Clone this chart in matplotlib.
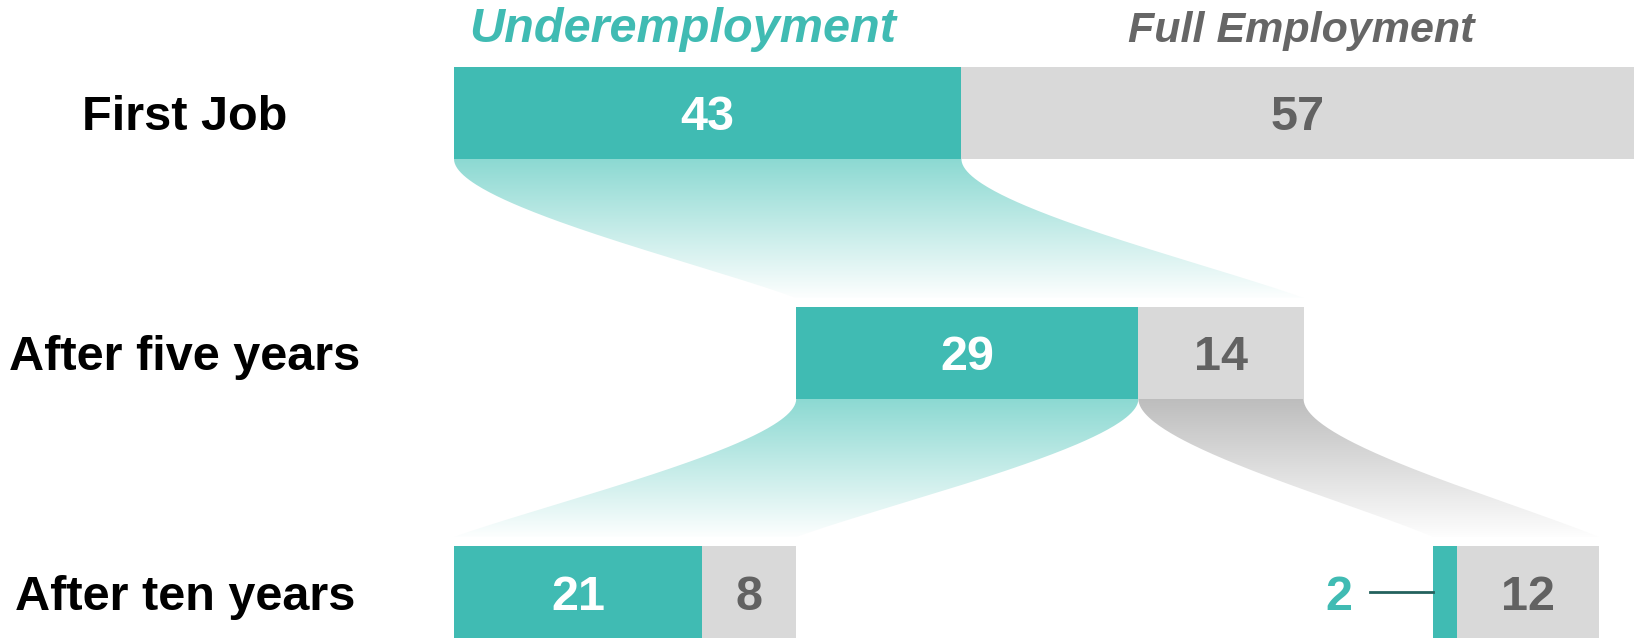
import numpy as np
import matplotlib
matplotlib.use('Agg')
import matplotlib.pyplot as plt
from matplotlib.path import Path
from matplotlib.patches import PathPatch, Rectangle
from matplotlib.colors import to_rgb

# share of graduates by employment status (%)
stages = ['First Job', 'After five years', 'After ten years']
headers = ['Underemployment', 'Full Employment']
first_job = [43, 57]
five_years = [29, 14]            # of the 43 underemployed at first job
ten_years_from_under = [21, 8]   # of the 29 still underemployed after five years
ten_years_from_full = [2, 12]    # of the 14 fully employed after five years

TEAL = '#40bbb3'
GRAY = '#d9d9d9'
TEAL_FLOW = '#8cd9d2'
GRAY_FLOW = '#bdbdbd'
DARK = '#626262'
FONT = 'Liberation Sans'

BAR_H = 92
row_top = [67, 307, 546]
PX_PER_UNIT = 11.8

fig = plt.figure(figsize=(16.34, 6.38), dpi=100)
ax = fig.add_axes([0, 0, 1, 1])
ax.axis('off')


def bar_group(x0, top, vals):
    segs = []
    x = x0
    mid = top + BAR_H / 2
    for i, v in enumerate(vals):
        ax.add_patch(Rectangle((x, top), v, BAR_H, facecolor=[TEAL, GRAY][i],
                               lw=0, zorder=3))
        if v >= 4:
            ax.text(x + v / 2, mid + 17.5, str(v), ha='center', va='baseline',
                    fontsize=35, fontweight='bold', family=FONT,
                    color=['white', DARK][i], zorder=4)
        else:
            # too thin for an inside label: put it to the left with a leader
            ax.plot([x - 5.4, x], [mid, mid], color='#23615d', lw=2, zorder=4)
            ax.text(x - 8, mid + 17.5, str(v), ha='center', va='baseline',
                    fontsize=35, fontweight='bold', family=FONT,
                    color=TEAL, zorder=4)
        segs.append((x, x + v))
        x += v
    return segs


def edge(xa, ya, xb, yb, n=120):
    t = np.linspace(0, 1, n)[:, None]
    h = yb - ya
    dx = xb - xa
    p0 = np.array([xa, ya])
    p1 = np.array([xa, ya + 0.32 * h])
    p2 = np.array([xa + 0.71 * dx, yb - 0.26 * h])
    p3 = np.array([xb, yb])
    return ((1 - t) ** 3 * p0 + 3 * (1 - t) ** 2 * t * p1
            + 3 * (1 - t) * t ** 2 * p2 + t ** 3 * p3)


def flow(top_seg, y0, bot_seg, y1, color):
    left = edge(top_seg[0], y0, bot_seg[0], y1)
    right = edge(top_seg[1], y0, bot_seg[1], y1)
    verts = np.vstack([left, right[::-1], left[:1]])
    patch = PathPatch(Path(verts), facecolor='none', edgecolor='none')
    ax.add_patch(patch)
    f = np.linspace(0, 0.98, 256)[:, None]
    rows = np.array(to_rgb(color))[None, :] * (1 - f) + f
    xl = min(top_seg[0], bot_seg[0])
    xr = max(top_seg[1], bot_seg[1])
    im = ax.imshow(rows[:, None, :], extent=(xl, xr, y0, y1), origin='lower',
                   aspect='auto', interpolation='bilinear', zorder=1)
    im.set_clip_path(patch)


# bars
row1 = bar_group(0, row_top[0], first_job)
row2 = bar_group(29, row_top[1], five_years)
row3a = bar_group(0, row_top[2], ten_years_from_under)
row3b = bar_group(83, row_top[2], ten_years_from_full)

# flows between the stages
gap = 9
flow(row1[0], row_top[0] + BAR_H, (row2[0][0], row2[1][1]), row_top[1] - gap, TEAL_FLOW)
flow(row2[0], row_top[1] + BAR_H, (row3a[0][0], row3a[1][1]), row_top[2] - gap, TEAL_FLOW)
flow(row2[1], row_top[1] + BAR_H, (row3b[0][0], row3b[1][1]), row_top[2] - gap, GRAY_FLOW)

# stage labels
label_x = (185 - 454) / PX_PER_UNIT
for name, top in zip(stages, row_top):
    ax.text(label_x, top + BAR_H / 2 + 17.5, name, ha='center', va='baseline',
            fontsize=35, fontweight='bold', family=FONT, color='black')

# column headers
ax.text(19.4, 42, headers[0], ha='center', va='baseline', fontsize=35,
        fontweight='bold', fontstyle='italic', family=FONT, color=TEAL)
ax.text(71.8, 42, headers[1], ha='center', va='baseline', fontsize=31,
        fontweight='bold', fontstyle='italic', family=FONT, color='#666666')

ax.set_xlim(-454 / PX_PER_UNIT, 100)
ax.set_ylim(638, 0)

fig.savefig('out.png', dpi=100)
